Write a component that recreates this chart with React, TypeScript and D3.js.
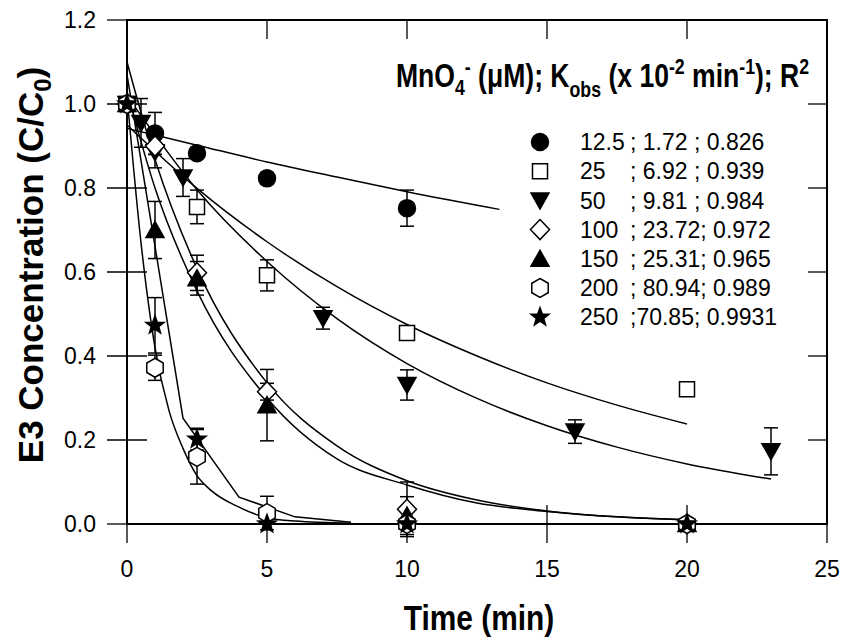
import React from "react";
import * as d3 from "d3";

// ---------- data ----------
const xTicks = [0, 5, 10, 15, 20, 25];
const yTicks = [0, 0.2, 0.4, 0.6, 0.8, 1.0, 1.2];

const concLabels = ["12.5", "25", "50", "100", "150", "200", "250"];
const legendRest = [
  "; 1.72 ; 0.826",
  "; 6.92 ; 0.939",
  "; 9.81 ; 0.984",
  "; 23.72; 0.972",
  "; 25.31; 0.965",
  "; 80.94; 0.989",
  ";70.85; 0.9931",
];

// measured points (time, C/C0, error)
const t125 = [0, 1, 2.5, 5, 10];
const c125 = [1.0, 0.93, 0.883, 0.823, 0.752];
const e125 = [0.01, 0.05, 0.012, 0.014, 0.043];

const t25 = [0, 2.5, 5, 10, 20];
const c25 = [1.0, 0.755, 0.592, 0.455, 0.321];
const e25 = [0.01, 0.04, 0.037, 0.012, 0.012];

const t50 = [0, 0.5, 1, 2, 7, 10, 16, 23];
const c50 = [1.0, 0.955, 0.885, 0.825, 0.49, 0.331, 0.22, 0.173];
const e50 = [0.01, 0.058, 0.037, 0.045, 0.026, 0.036, 0.028, 0.056];

const t100 = [0, 1, 2.5, 5, 10, 20];
const c100 = [1.0, 0.9, 0.598, 0.315, 0.035, 0.0];
const e100 = [0.01, 0.02, 0.042, 0.02, 0.065, 0.005];

const t150 = [0, 1, 2.5, 5, 10, 20];
const c150 = [1.0, 0.7, 0.585, 0.283, 0.02, 0.0];
const e150 = [0.01, 0.068, 0.04, 0.085, 0.045, 0.005];

const t200 = [0, 1, 2.5, 5, 10, 20];
const c200 = [1.0, 0.372, 0.16, 0.026, 0.0, 0.0];
const e200 = [0.01, 0.03, 0.065, 0.04, 0.005, 0.005];

const t250 = [0, 1, 2.5, 5, 10, 20];
const c250 = [1.0, 0.473, 0.202, 0.0, 0.0, 0.0];
const e250 = [0.01, 0.066, 0.026, 0.005, 0.0, 0.0];

// fitted curves
const fitT125 = [0, 2.5, 5, 7.5, 10, 13.3];
const fitC125 = [0.942, 0.902, 0.862, 0.826, 0.791, 0.749];

const fitT25 = [0, 2.5, 5, 7.5, 10, 12.5, 15, 17.5, 20];
const fitC25 = [0.95, 0.799, 0.672, 0.565, 0.475, 0.4, 0.336, 0.283, 0.238];

const fitT50 = [0, 2.5, 5, 7.5, 10, 12.5, 15, 17.5, 20, 23];
const fitC50 = [1.02, 0.796, 0.625, 0.489, 0.382, 0.299, 0.234, 0.183, 0.143, 0.107];

const fitT100 = [0, 1, 2.5, 5, 7.5, 10, 12.5, 15, 17.5, 20];
const fitC100 = [1.1, 0.868, 0.608, 0.336, 0.186, 0.103, 0.057, 0.031, 0.017, 0.0096];

const fitT150 = [0, 1, 2.5, 5, 7.5, 10, 12.5, 15, 17.5, 20];
const fitC150 = [1.03, 0.8, 0.555, 0.3, 0.155, 0.093, 0.05, 0.03, 0.017, 0.01];

const fitT200 = [0, 0.5, 1, 1.5, 2, 2.5, 3, 4, 5, 6, 8];
const fitC200 = [1.02, 0.67, 0.42, 0.27, 0.18, 0.115, 0.08, 0.04, 0.015, 0.007, 0.002];

const fitT250 = [0, 2, 4, 6, 8];
const fitC250 = [1.07, 0.252, 0.064, 0.017, 0.004];

// ---------- chart ----------
const W = 842;
const H = 637;
const x = d3.scaleLinear().domain([0, 25]).range([127, 827]);
const y = d3.scaleLinear().domain([0, 1.2]).range([524, 20]);

type Marker = "circle" | "square" | "triDown" | "diamond" | "triUp" | "hexagon" | "star";

const series: {
  t: number[]; c: number[]; e: number[]; ft: number[]; fc: number[]; marker: Marker; smooth: boolean;
}[] = [
  { t: t125, c: c125, e: e125, ft: fitT125, fc: fitC125, marker: "circle", smooth: true },
  { t: t25, c: c25, e: e25, ft: fitT25, fc: fitC25, marker: "square", smooth: true },
  { t: t50, c: c50, e: e50, ft: fitT50, fc: fitC50, marker: "triDown", smooth: true },
  { t: t100, c: c100, e: e100, ft: fitT100, fc: fitC100, marker: "diamond", smooth: true },
  { t: t150, c: c150, e: e150, ft: fitT150, fc: fitC150, marker: "triUp", smooth: true },
  { t: t200, c: c200, e: e200, ft: fitT200, fc: fitC200, marker: "hexagon", smooth: true },
  { t: t250, c: c250, e: e250, ft: fitT250, fc: fitC250, marker: "star", smooth: false },
];

const poly = (pts: number[][]) => "M" + pts.map((p) => p[0].toFixed(2) + "," + p[1].toFixed(2)).join("L") + "Z";

function markerPath(m: Marker): string {
  switch (m) {
    case "circle":
      return d3.symbol(d3.symbolCircle, Math.PI * 8.5 * 8.5)() as string;
    case "square":
      return d3.symbol(d3.symbolSquare, 15 * 15)() as string;
    case "triDown":
      return poly([[-9, -7.5], [9, -7.5], [0, 8.5]]);
    case "triUp":
      return poly([[-9, 7.5], [9, 7.5], [0, -8.5]]);
    case "diamond":
      return poly([[0, -10], [9.5, 0], [0, 10], [-9.5, 0]]);
    case "hexagon":
      return poly(d3.range(6).map((k) => {
        const a = ((-90 + 60 * k) * Math.PI) / 180;
        return [9.5 * Math.cos(a), 9.5 * Math.sin(a)];
      }));
    case "star":
      return poly(d3.range(10).map((k) => {
        const a = ((-90 + 36 * k) * Math.PI) / 180;
        const r = k % 2 === 0 ? 9.5 : 3.9;
        return [r * Math.cos(a), r * Math.sin(a)];
      }));
  }
}

const filled = (m: Marker) => m === "circle" || m === "triDown" || m === "triUp" || m === "star";

const FONT = "'Liberation Sans', Arial, Helvetica, sans-serif";

export default function App() {
  const lineSmooth = d3.line<[number, number]>().x((d) => x(d[0])).y((d) => y(d[1])).curve(d3.curveMonotoneX);
  const lineLinear = d3.line<[number, number]>().x((d) => x(d[0])).y((d) => y(d[1]));

  const legendY0 = 142;
  const legendStep = 29.2;

  return (
    <svg width={W} height={H} style={{ position: "absolute", left: 0, top: 0, background: "#fff" }} fontFamily={FONT}>
      <rect x={0} y={0} width={W} height={H} fill="#fff" />

      {/* fitted curves */}
      {series.map((s, i) => {
        const pts = s.ft.map((t, j) => [t, s.fc[j]] as [number, number]);
        return (
          <path key={"fit" + i} d={(s.smooth ? lineSmooth : lineLinear)(pts) as string} fill="none" stroke="#000" strokeWidth={1.5} />
        );
      })}

      {/* frame */}
      <rect x={x(0)} y={y(1.2)} width={x(25) - x(0)} height={y(0) - y(1.2)} fill="none" stroke="#000" strokeWidth={2} />

      {/* left ticks (crossing) */}
      {yTicks.map((v) => (
        <line key={"yl" + v} x1={x(0) - 20} x2={v === 0 || v === 1.2 ? x(0) : x(0) + 20} y1={y(v)} y2={y(v)} stroke="#000" strokeWidth={1.3} />
      ))}
      {/* right ticks (inward) */}
      {yTicks.filter((v) => v > 0 && v < 1.2).map((v) => (
        <line key={"yr" + v} x1={x(25) - 19} x2={x(25)} y1={y(v)} y2={y(v)} stroke="#000" strokeWidth={1.3} />
      ))}
      {/* bottom ticks (crossing) */}
      {xTicks.map((t) => (
        <line key={"xb" + t} x1={x(t)} x2={x(t)} y1={t === 0 || t === 25 ? y(0) : y(0) - 19} y2={y(0) + 19} stroke="#000" strokeWidth={1.3} />
      ))}
      {/* top ticks (inward) */}
      {xTicks.filter((t) => t > 0 && t < 25).map((t) => (
        <line key={"xt" + t} x1={x(t)} x2={x(t)} y1={y(1.2)} y2={y(1.2) + 19} stroke="#000" strokeWidth={1.3} />
      ))}

      {/* tick labels */}
      {yTicks.map((v) => (
        <text key={"yt" + v} x={96} y={y(v) + 8.3} fontSize={23} textAnchor="end" fill="#000">
          {v.toFixed(1)}
        </text>
      ))}
      {xTicks.map((t) => (
        <text key={"xtl" + t} x={x(t)} y={577} fontSize={23} textAnchor="middle" fill="#000">
          {String(t)}
        </text>
      ))}

      {/* error bars */}
      {series.map((s, i) =>
        s.t.map((t, j) => {
          const e = s.e[j];
          if (e <= 0.006) return null;
          const cx = x(t);
          const y1 = y(s.c[j] + e);
          const y2 = y(s.c[j] - e);
          return (
            <g key={"eb" + i + "-" + j} stroke="#000" strokeWidth={1.5}>
              <line x1={cx} x2={cx} y1={y1} y2={y2} />
              <line x1={cx - 7} x2={cx + 7} y1={y1} y2={y1} />
              <line x1={cx - 7} x2={cx + 7} y1={y2} y2={y2} />
            </g>
          );
        })
      )}

      {/* markers */}
      {series.map((s, i) =>
        s.t.map((t, j) => (
          <path
            key={"m" + i + "-" + j}
            d={markerPath(s.marker)}
            transform={`translate(${x(t)},${y(s.c[j])})`}
            fill={filled(s.marker) ? "#000" : "#fff"}
            stroke="#000"
            strokeWidth={1.5}
          />
        ))
      )}

      {/* legend title */}
      <g transform="translate(396,87) scale(0.805,1)">
        <text x={0} y={0} fontSize={33} fontWeight="bold" fill="#000">
          MnO
          <tspan fontSize={22} dy={8}>4</tspan>
          <tspan fontSize={22} dy={-21}>-</tspan>
          <tspan dy={13}>{" (\u03BCM); K"}</tspan>
          <tspan fontSize={22} dy={10}>obs</tspan>
          <tspan dy={-10}>{" (x 10"}</tspan>
          <tspan fontSize={22} dy={-13}>-2</tspan>
          <tspan dy={13}>{" min"}</tspan>
          <tspan fontSize={22} dy={-13}>-1</tspan>
          <tspan dy={13}>{"); R"}</tspan>
          <tspan fontSize={22} dy={-13}>2</tspan>
        </text>
      </g>

      {/* legend entries */}
      {series.map((s, i) => {
        const ly = legendY0 + i * legendStep;
        return (
          <g key={"lg" + i}>
            <path
              d={markerPath(s.marker)}
              transform={`translate(540,${ly})`}
              fill={filled(s.marker) ? "#000" : "#fff"}
              stroke="#000"
              strokeWidth={1.5}
            />
            <text x={580} y={ly + 8.2} fontSize={23} fill="#000">{concLabels[i]}</text>
            <text x={630} y={ly + 8.2} fontSize={23} fill="#000">{legendRest[i]}</text>
          </g>
        );
      })}

      {/* axis titles */}
      <g transform="translate(479,630) scale(0.83,1)">
        <text x={0} y={0} fontSize={36} fontWeight="bold" textAnchor="middle" fill="#000">
          Time (min)
        </text>
      </g>
      <text transform="translate(43,265) rotate(-90)" fontSize={35} fontWeight="bold" textAnchor="middle" fill="#000">
        {"E3 Concentration (C/C"}
        <tspan fontSize={24} dy={8}>0</tspan>
        <tspan dy={-8}>)</tspan>
      </text>
    </svg>
  );
}
